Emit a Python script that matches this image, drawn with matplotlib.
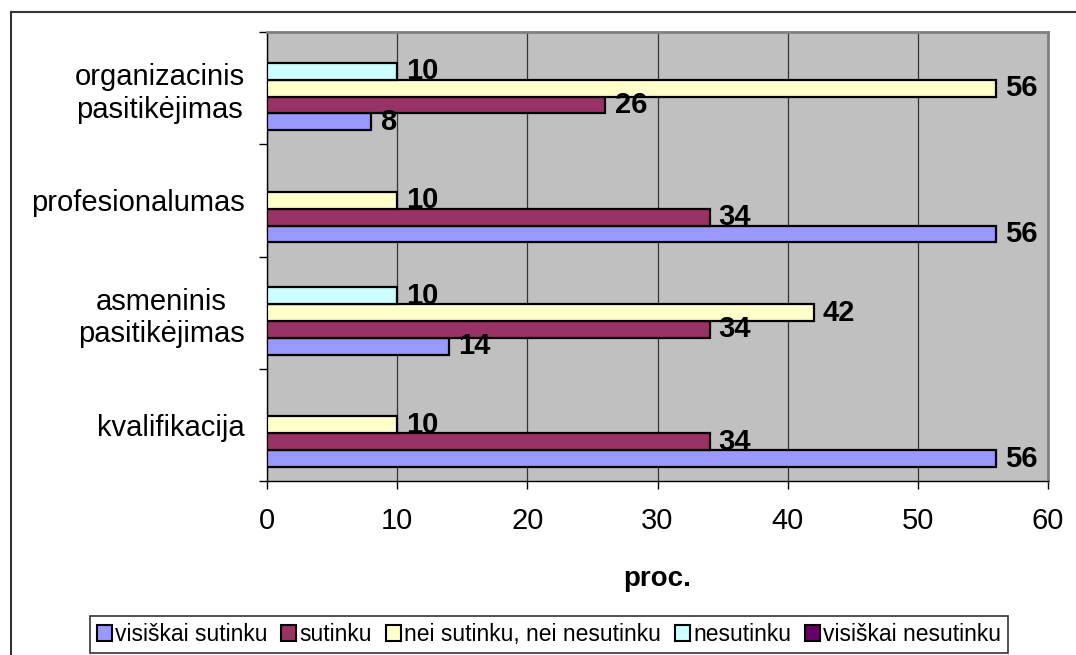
import numpy as np
import matplotlib.pyplot as plt
from matplotlib.lines import Line2D
from matplotlib.patches import Patch

plt.rcParams['font.family'] = ['Liberation Sans', 'DejaVu Sans']

# categories from bottom to top
categories = ['kvalifikacija', 'asmeninis\npasitikėjimas', 'profesionalumas',
              'organizacinis\npasitikėjimas']
series_names = ['visiškai sutinku', 'sutinku', 'nei sutinku, nei nesutinku',
                'nesutinku', 'visiškai nesutinku']
visiskai_sutinku = [56, 14, 56, 8]
sutinku = [34, 34, 34, 26]
nei_nei = [10, 42, 10, 56]
nesutinku = [0, 10, 0, 10]
visiskai_nesutinku = [0, 0, 0, 0]
colors = ['#9999FF', '#993366', '#FFFFCC', '#CCFFFF', '#660066']

series = [visiskai_sutinku, sutinku, nei_nei, nesutinku, visiskai_nesutinku]

W, H = 1076, 655
fig = plt.figure(figsize=(W / 100, H / 100), dpi=100)
ax = fig.add_axes([267 / W, 1 - 481 / H, (1048 - 267) / W, (481 - 32) / H])
ax.set_facecolor('#C0C0C0')

bar_h = 0.15
y = np.arange(len(categories))
for i, (vals, col) in enumerate(zip(series, colors)):
    off = (i - 2) * bar_h
    for yi, v in zip(y, vals):
        if v == 0:
            continue
        ax.barh(yi + off, v, height=bar_h, color=col, edgecolor='black',
                linewidth=1.6, zorder=3)
        ax.text(v + 0.7, yi + off, str(v), va='center', ha='left',
                fontsize=21, fontweight='bold', zorder=4)

ax.set_xlim(0, 60)
ax.set_ylim(-0.5, len(categories) - 0.5)
ax.set_xticks(range(0, 61, 10))
ax.tick_params(axis='x', direction='out', length=6, width=1, labelsize=21, pad=13)
ax.grid(axis='x', color='#333333', linewidth=0.9, zorder=0)
ax.set_axisbelow(True)

ax.set_yticks(np.arange(-0.5, len(categories), 1.0))
ax.set_yticklabels([])
ax.tick_params(axis='y', which='major', direction='out', length=6, width=1)
ax.set_yticks(y, minor=True)
ax.set_yticklabels(categories, minor=True, fontsize=21, multialignment='center')
ax.tick_params(axis='y', which='minor', length=0, pad=16)

for s in ['top', 'right']:
    ax.spines[s].set_color('#808080')
    ax.spines[s].set_linewidth(2)
for s in ['left', 'bottom']:
    ax.spines[s].set_color('black')
    ax.spines[s].set_linewidth(1)

fig.text(657 / W, 1 - 579 / H, 'proc.', ha='center', va='center',
         fontsize=20, fontweight='bold')

handles = [Patch(facecolor=c, edgecolor='black', linewidth=1.5) for c in colors]
leg = fig.legend(handles, series_names, loc='center',
                 bbox_to_anchor=(549 / W, 1 - 634.5 / H), ncol=5, fontsize=16.5,
                 handlelength=0.65, handleheight=0.65, handletextpad=0.15,
                 columnspacing=0.6, borderpad=0.3, frameon=True, fancybox=False,
                 edgecolor='black', borderaxespad=0)
leg.get_frame().set_linewidth(1.2)

# outer chart border (cropped on the right and bottom)
fig.add_artist(Line2D([11 / W, 11 / W], [0, 1 - 12 / H], transform=fig.transFigure,
                      color='#333333', linewidth=1.5))
fig.add_artist(Line2D([11 / W, 1], [1 - 12 / H, 1 - 12 / H], transform=fig.transFigure,
                      color='#333333', linewidth=1.5))

fig.savefig('out.png', dpi=100)
